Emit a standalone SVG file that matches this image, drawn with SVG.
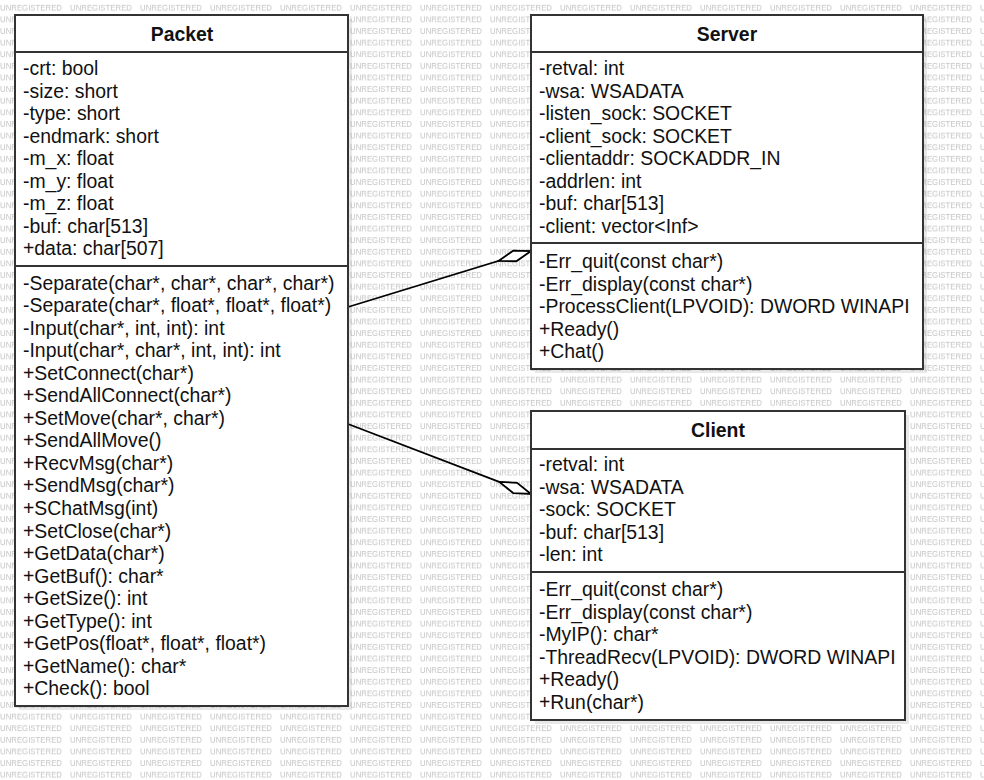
<svg xmlns="http://www.w3.org/2000/svg" width="984" height="780" viewBox="0 0 984 780">
<defs>
<pattern id="wm" patternUnits="userSpaceOnUse" x="0" y="0" width="70" height="11.62">
<text x="0" y="10.6" font-family="'Liberation Sans', Arial, sans-serif" font-size="8" fill="#c4c4c4" textLength="62" lengthAdjust="spacingAndGlyphs">UNREGISTERED</text>
</pattern>
<marker id="dia" markerUnits="userSpaceOnUse" markerWidth="40" markerHeight="16" refX="34" refY="8" orient="auto" overflow="visible">
<path d="M0,8 L17,2.5 L34,8 L17,13.5 Z" fill="#fff" stroke="#000" stroke-width="1.8" stroke-linejoin="miter"/>
</marker>
</defs>
<style>
.box{fill:#fff;stroke:#333;stroke-width:2}
.shadow{fill:#000;fill-opacity:0.09}
.div{stroke:#333;stroke-width:2}
.t{font-family:'Liberation Sans',Arial,Helvetica,sans-serif;font-size:19.4px;fill:#111}
.h{font-family:'Liberation Sans',Arial,Helvetica,sans-serif;font-size:19.4px;font-weight:bold;fill:#111;text-anchor:middle}
.edge{fill:none;stroke:#000;stroke-width:1.8}
</style>
<rect width="984" height="780" fill="#fff"/>
<rect width="984" height="780" fill="url(#wm)"/>

<g id="connectors">
<path class="edge" d="M348,307 L531,251" marker-end="url(#dia)"/>
<path class="edge" d="M348,424 L531,494" marker-end="url(#dia)"/>
</g>

<g id="packet">
<rect class="shadow" x="19" y="19" width="333" height="691"/>
<rect class="box" x="15" y="15" width="333" height="691"/>
<line class="div" x1="15" y1="52" x2="348" y2="52"/>
<line class="div" x1="15" y1="266" x2="348" y2="266"/>
<text class="h" x="182" y="41">Packet</text>
<text class="t">
<tspan x="23" y="75">-crt: bool</tspan>
<tspan x="23" y="97.5">-size: short</tspan>
<tspan x="23" y="120">-type: short</tspan>
<tspan x="23" y="142.5">-endmark: short</tspan>
<tspan x="23" y="165">-m_x: float</tspan>
<tspan x="23" y="187.5">-m_y: float</tspan>
<tspan x="23" y="210">-m_z: float</tspan>
<tspan x="23" y="232.5">-buf: char[513]</tspan>
<tspan x="23" y="255">+data: char[507]</tspan>
</text>
<text class="t">
<tspan x="23" y="289.5">-Separate(char*, char*, char*, char*)</tspan>
<tspan x="23" y="312">-Separate(char*, float*, float*, float*)</tspan>
<tspan x="23" y="334.6">-Input(char*, int, int): int</tspan>
<tspan x="23" y="357.1">-Input(char*, char*, int, int): int</tspan>
<tspan x="23" y="379.7">+SetConnect(char*)</tspan>
<tspan x="23" y="402.2">+SendAllConnect(char*)</tspan>
<tspan x="23" y="424.8">+SetMove(char*, char*)</tspan>
<tspan x="23" y="447.3">+SendAllMove()</tspan>
<tspan x="23" y="469.9">+RecvMsg(char*)</tspan>
<tspan x="23" y="492.4">+SendMsg(char*)</tspan>
<tspan x="23" y="515">+SChatMsg(int)</tspan>
<tspan x="23" y="537.5">+SetClose(char*)</tspan>
<tspan x="23" y="560.1">+GetData(char*)</tspan>
<tspan x="23" y="582.6">+GetBuf(): char*</tspan>
<tspan x="23" y="605.2">+GetSize(): int</tspan>
<tspan x="23" y="627.7">+GetType(): int</tspan>
<tspan x="23" y="650.3">+GetPos(float*, float*, float*)</tspan>
<tspan x="23" y="672.8">+GetName(): char*</tspan>
<tspan x="23" y="695.4">+Check(): bool</tspan>
</text>
</g>

<g id="server">
<rect class="shadow" x="535" y="19" width="392" height="354"/>
<rect class="box" x="531" y="15" width="392" height="354"/>
<line class="div" x1="531" y1="52" x2="923" y2="52"/>
<line class="div" x1="531" y1="243" x2="923" y2="243"/>
<text class="h" x="727" y="41">Server</text>
<text class="t">
<tspan x="539" y="75">-retval: int</tspan>
<tspan x="539" y="97.5">-wsa: WSADATA</tspan>
<tspan x="539" y="120">-listen_sock: SOCKET</tspan>
<tspan x="539" y="142.5">-client_sock: SOCKET</tspan>
<tspan x="539" y="165">-clientaddr: SOCKADDR_IN</tspan>
<tspan x="539" y="187.5">-addrlen: int</tspan>
<tspan x="539" y="210">-buf: char[513]</tspan>
<tspan x="539" y="232.5">-client: vector&lt;Inf&gt;</tspan>
</text>
<text class="t">
<tspan x="539" y="268">-Err_quit(const char*)</tspan>
<tspan x="539" y="290.5">-Err_display(const char*)</tspan>
<tspan x="539" y="313">-ProcessClient(LPVOID): DWORD WINAPI</tspan>
<tspan x="539" y="335.5">+Ready()</tspan>
<tspan x="539" y="358">+Chat()</tspan>
</text>
</g>

<g id="client">
<rect class="shadow" x="535" y="415" width="374" height="309"/>
<rect class="box" x="531" y="411" width="374" height="309"/>
<line class="div" x1="531" y1="449" x2="905" y2="449"/>
<line class="div" x1="531" y1="572" x2="905" y2="572"/>
<text class="h" x="718" y="437">Client</text>
<text class="t">
<tspan x="539" y="471">-retval: int</tspan>
<tspan x="539" y="493.5">-wsa: WSADATA</tspan>
<tspan x="539" y="516">-sock: SOCKET</tspan>
<tspan x="539" y="538.5">-buf: char[513]</tspan>
<tspan x="539" y="561">-len: int</tspan>
</text>
<text class="t">
<tspan x="539" y="596">-Err_quit(const char*)</tspan>
<tspan x="539" y="618.5">-Err_display(const char*)</tspan>
<tspan x="539" y="641">-MyIP(): char*</tspan>
<tspan x="539" y="663.5">-ThreadRecv(LPVOID): DWORD WINAPI</tspan>
<tspan x="539" y="686">+Ready()</tspan>
<tspan x="539" y="708.5">+Run(char*)</tspan>
</text>
</g>
</svg>
